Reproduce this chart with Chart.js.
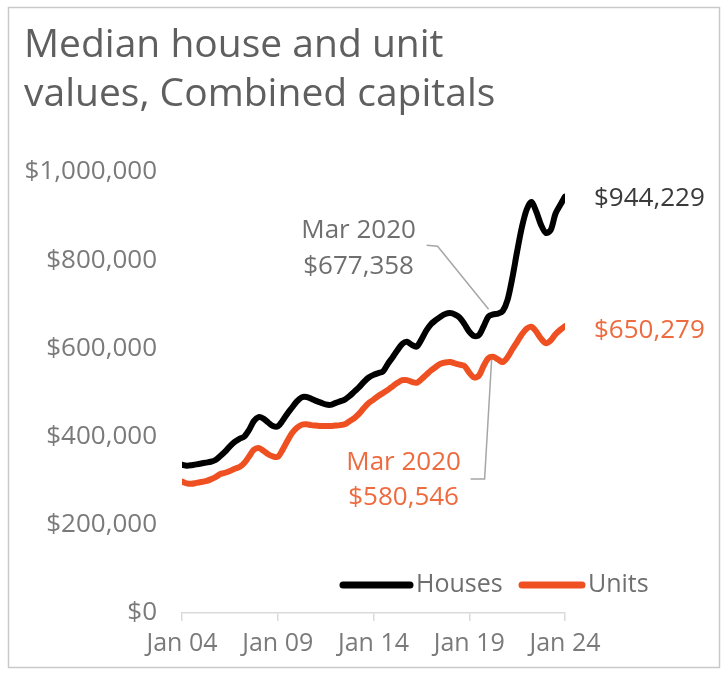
<!DOCTYPE html>
<html><head><meta charset="utf-8">
<script src="https://cdn.jsdelivr.net/npm/chart.js@4.4.1/dist/chart.umd.min.js"></script>
<style>html,body{margin:0;padding:0;background:#fff}canvas{display:block}</style>
</head><body>
<canvas id="c" width="728" height="680"></canvas>
<script>
// ---- data ----
const periods = [
'2004-01','2004-04','2004-07','2004-10','2005-01','2005-04','2005-07','2005-10',
'2006-01','2006-04','2006-07','2006-10','2007-01','2007-04','2007-07','2007-10',
'2008-01','2008-04','2008-07','2008-10','2009-01','2009-04','2009-07','2009-10',
'2010-01','2010-04','2010-07','2010-10','2011-01','2011-04','2011-07','2011-10',
'2012-01','2012-04','2012-07','2012-10','2013-01','2013-04','2013-07','2013-10',
'2014-01','2014-04','2014-07','2014-10','2015-01','2015-04','2015-07','2015-10',
'2016-01','2016-04','2016-07','2016-10','2017-01','2017-04','2017-07','2017-10',
'2018-01','2018-04','2018-07','2018-10','2019-01','2019-04','2019-07','2019-10',
'2020-01','2020-04','2020-07','2020-10','2021-01','2021-04','2021-07','2021-10',
'2022-01','2022-04','2022-07','2022-10','2023-01','2023-04','2023-07','2023-10',
'2024-01'];
// values in $ thousands
const houses = [
336,334,335,337, 339,341,343,347, 356,366,378,388, 395,400,415,435,
444,441,432,424, 423,436,452,466, 480,489,490,486, 481,477,473,472,
476,480,484,492, 502,512,524,534, 540,544,548,565, 580,596,610,615,
608,604,620,640, 655,664,672,678, 680,677,670,655, 638,628,630,650,
672,677,679,685, 710,760,820,875, 915,932,910,880, 862,868,905,925,
944.229];
const units = [
298,294,293,295, 297,299,303,308, 315,318,322,327, 331,340,355,370,
374,368,360,355, 354,370,390,408, 420,427,428,426, 425,424,424,424,
425,426,428,435, 442,452,465,476, 484,492,499,506, 514,522,528,528,
524,522,530,540, 550,558,565,568, 569,566,563,560, 545,534,538,560,
578,581,575,569, 580,598,615,632, 645,649,638,622, 612,618,632,642,
650.279];
const seriesNames = ['Houses', 'Units'];
const xTickYears = [2004, 2009, 2014, 2019, 2024];
const xTickLabels = ['Jan 04', 'Jan 09', 'Jan 14', 'Jan 19', 'Jan 24'];
const yTicks = [0, 200000, 400000, 600000, 800000, 1000000];
const calloutPeriod = '2020-03';
const calloutLabel = 'Mar 2020';
const houseCallout = 677358;
const unitCallout = 580546;
const houseLatest = 944229;
const unitLatest = 650279;

// ---- helpers ----
const FONT = "'Open Sans', 'Noto Sans', sans-serif";
const BLACK = '#000000';
const ORANGE = '#EF5021';
const ORANGE_TEXT = '#EE6A3F';
const GREY_TEXT = '#6f6f6f';
const toYear = p => { const [y, m] = p.split('-').map(Number); return y + (m - 1) / 12; };
const money = v => '$' + Math.round(v).toLocaleString('en-US');
const pts = arr => periods.map((p, i) => ({ x: toYear(p), y: arr[i] * 1000 }));

const overlay = {
  id: 'overlay',
  afterDraw(chart) {
    const ctx = chart.ctx, xs = chart.scales.x, ys = chart.scales.y;
    ctx.save();
    // frame
    ctx.strokeStyle = '#c9c9c9'; ctx.lineWidth = 1.5;
    ctx.strokeRect(8.5, 7.5, 711, 660);
    // title
    ctx.fillStyle = '#5f5f5f';
    ctx.font = '39px ' + FONT;
    ctx.textAlign = 'left'; ctx.textBaseline = 'alphabetic';
    ctx.fillText('Median house and unit', 24, 57);
    ctx.fillText('values, Combined capitals', 24, 106);

    ctx.font = '26px ' + FONT;
    ctx.textBaseline = 'middle';
    // end labels
    ctx.textAlign = 'left';
    ctx.fillStyle = '#3a3a3a';
    ctx.fillText(money(houseLatest), xs.right + 29, ys.getPixelForValue(houseLatest) + 2);
    ctx.fillStyle = ORANGE_TEXT;
    ctx.fillText(money(unitLatest), xs.right + 29, ys.getPixelForValue(unitLatest) + 4);

    // callouts
    const cx = xs.getPixelForValue(toYear(calloutPeriod));
    const hy = ys.getPixelForValue(houseCallout);
    const uy = ys.getPixelForValue(unitCallout);
    ctx.strokeStyle = '#a6a6a6'; ctx.lineWidth = 1.5;
    ctx.beginPath();
    ctx.moveTo(cx - 65, hy - 69); ctx.lineTo(cx - 54, hy - 68); ctx.lineTo(cx - 3, hy - 5);
    ctx.stroke();
    ctx.beginPath();
    ctx.moveTo(cx, uy + 3); ctx.lineTo(cx - 7, uy + 122); ctx.lineTo(cx - 21, uy + 122);
    ctx.stroke();
    ctx.textAlign = 'center';
    ctx.fillStyle = GREY_TEXT;
    ctx.fillText(calloutLabel, cx - 133, hy - 84);
    ctx.fillText(money(houseCallout), cx - 133, hy - 48);
    ctx.fillStyle = ORANGE_TEXT;
    ctx.fillText(calloutLabel, cx - 88, uy + 106);
    ctx.fillText(money(unitCallout), cx - 88, uy + 141);

    // legend
    ctx.font = '25px ' + FONT;
    const ly = 585;
    const items = [
      { name: seriesNames[0], color: BLACK, x0: 343, x1: 410 },
      { name: seriesNames[1], color: ORANGE, x0: 522, x1: 582 }
    ];
    ctx.lineCap = 'round'; ctx.lineWidth = 7;
    items.forEach(it => {
      ctx.strokeStyle = it.color;
      ctx.beginPath(); ctx.moveTo(it.x0, ly); ctx.lineTo(it.x1, ly); ctx.stroke();
      ctx.fillStyle = GREY_TEXT; ctx.textAlign = 'left';
      ctx.fillText(it.name, it.x1 + 6, ly);
    });
    ctx.restore();
  }
};

new Chart(document.getElementById('c'), {
  type: 'line',
  data: {
    datasets: [
      { label: seriesNames[0], data: pts(houses), borderColor: BLACK, borderWidth: 6,
        pointRadius: 0, tension: 0.3, borderCapStyle: 'round', borderJoinStyle: 'round' },
      { label: seriesNames[1], data: pts(units), borderColor: ORANGE, borderWidth: 6,
        pointRadius: 0, tension: 0.3, borderCapStyle: 'round', borderJoinStyle: 'round' }
    ]
  },
  options: {
    responsive: false, animation: false, devicePixelRatio: 1,
    layout: { padding: { left: 0, right: 163, top: 172, bottom: 0 } },
    plugins: { legend: { display: false }, tooltip: { enabled: false }, title: { display: false } },
    scales: {
      x: {
        type: 'linear', min: 2004, max: 2024,
        afterBuildTicks: s => { s.ticks = xTickYears.map(v => ({ value: v })); },
        afterFit: s => { s.height = 67; },
        grid: { display: true, drawOnChartArea: false, drawTicks: true, tickLength: 8, color: '#d9d9d9', lineWidth: 1.5 },
        border: { display: true, color: '#d9d9d9', width: 1.5 },
        ticks: { padding: 8, color: '#7a7a7a', font: { family: FONT, size: 25 }, maxRotation: 0,
          callback: (v, i) => xTickLabels[i] }
      },
      y: {
        min: 0, max: 1000000,
        afterBuildTicks: s => { s.ticks = yTicks.map(v => ({ value: v })); },
        afterFit: s => { s.width = 182; },
        grid: { display: false, drawTicks: false },
        border: { display: false },
        ticks: { padding: 25, color: '#7a7a7a', font: { family: FONT, size: 26 },
          callback: v => money(v) }
      }
    }
  },
  plugins: [overlay]
});
</script>
</body></html>
